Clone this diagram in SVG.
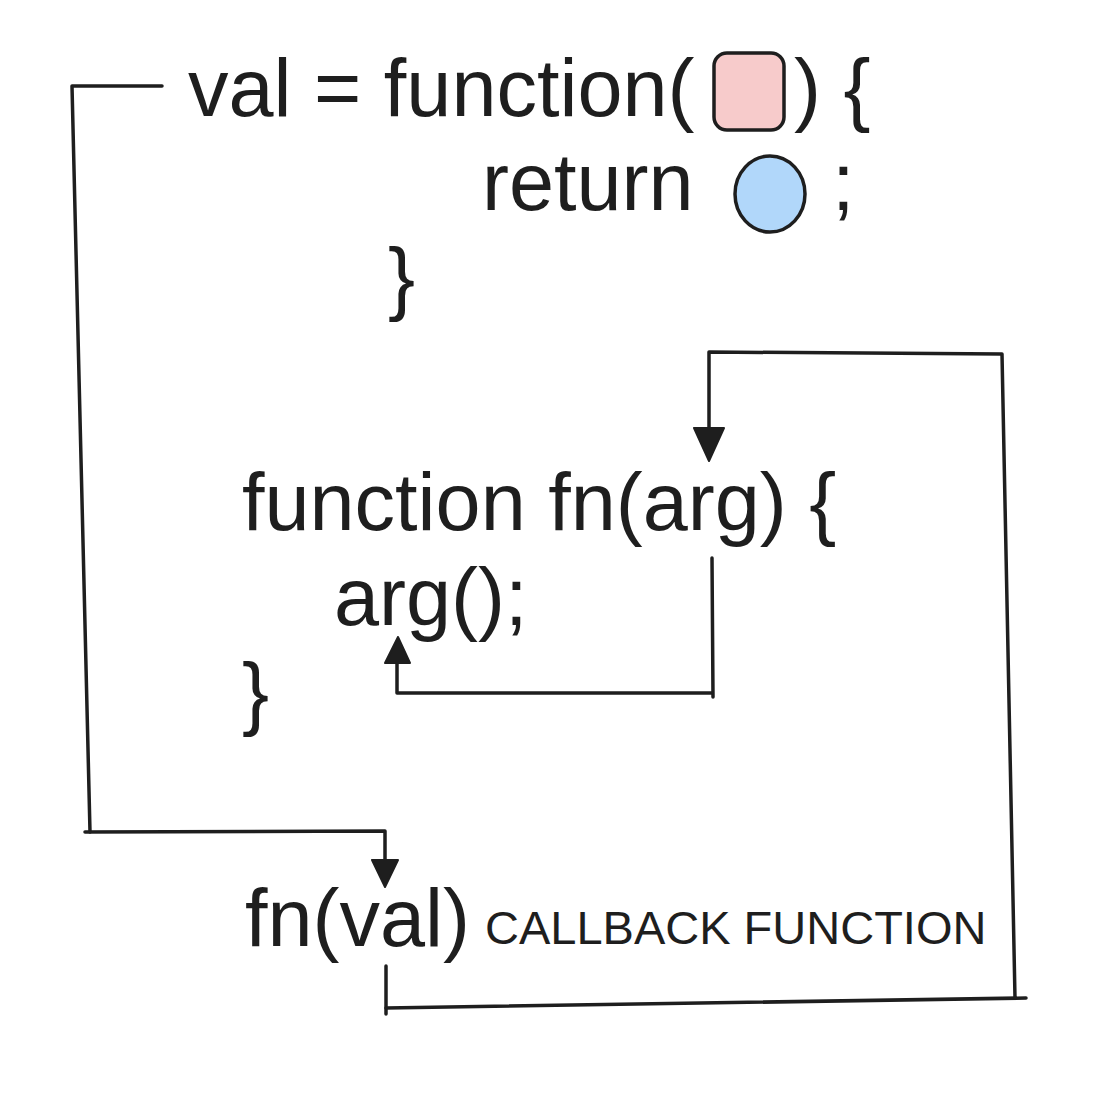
<svg xmlns="http://www.w3.org/2000/svg" width="1107" height="1102" viewBox="0 0 1107 1102">
<style>
.t{font-family:"Liberation Sans",Arial,sans-serif;fill:#1e1e1e}
.big{font-size:81px}
.small{font-size:47px}
.ln{fill:none;stroke:#1e1e1e;stroke-width:3.5;stroke-linecap:round;stroke-linejoin:round}
.ah{fill:#1e1e1e;stroke:#1e1e1e;stroke-width:2;stroke-linejoin:round}
</style>
<rect width="1107" height="1102" fill="#ffffff"/>
<g id="line1">
<text class="t big" x="188" y="116">val = function(</text>
<rect x="714" y="53" width="70" height="77" rx="13" fill="#f7cbcb" stroke="#1e1e1e" stroke-width="3.5"/>
<text class="t big" x="794" y="116">) {</text>
</g>
<g id="line2">
<text class="t big" x="482" y="210">return</text>
<ellipse cx="770" cy="194" rx="35" ry="38" fill="#b1d7fa" stroke="#1e1e1e" stroke-width="3.5"/>
<text class="t big" x="832" y="210">;</text>
</g>
<g id="line3">
<text class="t big" x="388" y="305">}</text>
</g>
<g id="fnDef">
<text class="t big" x="242" y="530">function fn(arg) {</text>
<text class="t big" x="334" y="625">arg();</text>
<text class="t big" x="242" y="720">}</text>
</g>
<g id="call">
<text class="t big" x="245" y="946">fn(val)</text>
<text class="t small" x="485" y="944">CALLBACK FUNCTION</text>
</g>
<g id="connectors">
<path class="ln" d="M162 86 L72 86 L90 832"/>
<path class="ln" d="M85 832 L385 831 L385 862"/>
<polygon class="ah" points="372,860 398,860 385,887"/>
<path class="ln" d="M386 966 L386 1014"/>
<path class="ln" d="M386 1008 L1026 998"/>
<path class="ln" d="M1015 998 L1002 354 L709 352 L709 430"/>
<polygon class="ah" points="694,428 724,428 709,461"/>
<path class="ln" d="M712 558 L713 697"/>
<path class="ln" d="M712 693 L397 693 L397 662"/>
<polygon class="ah" points="385,663 410,663 398,637"/>
</g>
</svg>
